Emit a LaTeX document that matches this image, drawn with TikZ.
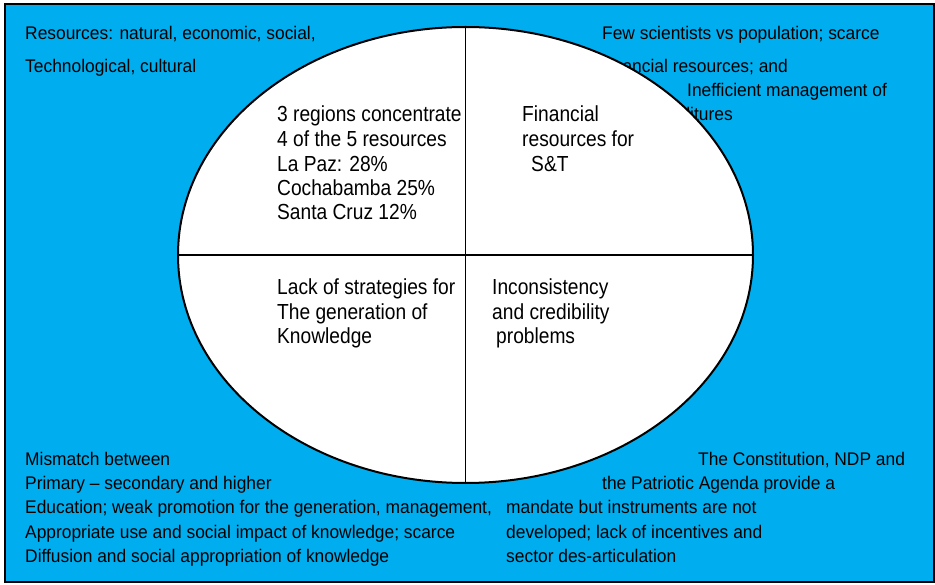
\documentclass[tikz,border=0pt]{standalone}
\usepackage{fontspec}
\setmainfont{Liberation Sans}
\newfontfamily\narrowsans[FakeStretch=0.88,Ligatures=TeX]{Liberation Sans}
\newfontfamily\cornersans[FakeStretch=0.95,Ligatures=TeX]{Liberation Sans}
\usetikzlibrary{shapes.geometric}
\definecolor{bgblue}{RGB}{0,174,239}
\tikzset{
  corner/.style={anchor=base west, inner sep=0pt, font=\cornersans\fontsize{18.3}{24.3}\selectfont},
  inner/.style={anchor=base west, inner sep=0pt, font=\narrowsans\fontsize{21.8}{24.5}\selectfont},
  oval/.style={ellipse, draw=black, line width=2pt, fill=white, inner sep=0pt},
  cross/.style={draw=black, line width=1.8pt}
}
\begin{document}
\begin{tikzpicture}[x=1pt,y=-1pt]
\useasboundingbox (0,0) rectangle (935,585);
\fill[bgblue] (5,4) rectangle (934,582);
\draw[line width=1.8pt] (5,4) rectangle (934,582);
% top-left
\node[corner] (tl1) at (25,40) {Resources: natural, economic, social,};
\node[corner] (tl2) at (25,73) {Technological, cultural};
% top-right
\node[corner] (tr1) at (602,40) {Few scientists vs population; scarce};
\node[corner] (tr2) at (604,73) {financial resources; and};
\node[corner] (tr3) at (687,97) {Inefficient management of};
\node[corner] (tr4) at (633,121) {expenditures};
% bottom-left
\node[corner] (bl1) at (25,465) {Mismatch between};
\node[corner] (bl2) at (25,489) {Primary \textendash{} secondary and higher};
\node[corner] (bl3) at (25,513) {Education; weak promotion for the generation, management,};
\node[corner] (bl4) at (25,538) {Appropriate use and social impact of knowledge; scarce};
\node[corner] (bl5) at (25,562) {Diffusion and social appropriation of knowledge};
% bottom-right
\node[corner] (br1) at (698,465) {The Constitution, NDP and};
\node[corner] (br2) at (602,489) {the Patriotic Agenda provide a};
\node[corner] (br3) at (506,513) {mandate but instruments are not};
\node[corner] (br4) at (506,538) {developed; lack of incentives and};
\node[corner] (br5) at (506,562) {sector des-articulation};
% ellipse
\node[oval, minimum width=575pt, minimum height=456pt] (E) at (465.5,255) {};
\draw[cross] (E.north) -- (E.south);
\draw[cross] (E.west) -- (E.east);
% quadrant texts
\node[inner] (q1a) at (277,122) {3 regions concentrate};
\node[inner] (q1b) at (277,147) {4 of the 5 resources};
\node[inner] (q1c) at (277,172) {La Paz: 28\%};
\node[inner] (q1d) at (277,196) {Cochabamba 25\%};
\node[inner] (q1e) at (277,220) {Santa Cruz 12\%};
\node[inner] (q2a) at (522,122) {Financial};
\node[inner] (q2b) at (522,147) {resources for};
\node[inner] (q2c) at (531,172) {S\&T};
\node[inner] (q3a) at (277,295) {Lack of strategies for};
\node[inner] (q3b) at (277,320) {The generation of};
\node[inner] (q3c) at (277,344) {Knowledge};
\node[inner] (q4a) at (492,295) {Inconsistency};
\node[inner] (q4b) at (492,320) {and credibility};
\node[inner] (q4c) at (496,344) {problems};
\end{tikzpicture}
\end{document}
